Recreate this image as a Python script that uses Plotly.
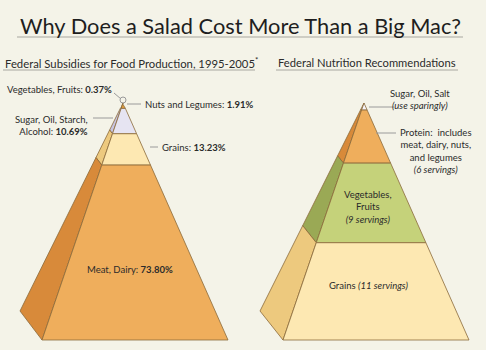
import plotly.graph_objects as go

# ---------------- data ----------------
subsidy_categories = ["Vegetables, Fruits", "Nuts and Legumes", "Sugar, Oil, Starch, Alcohol", "Grains", "Meat, Dairy"]
subsidy_percent = [0.37, 1.91, 10.69, 13.23, 73.80]
subsidy_front = ["#8fb04a", "#e6a040", "#e6e4f2", "#fde8b2", "#efae5c"]
subsidy_side = ["#6f8a36", "#c98530", "#c7c3df", "#edc97e", "#d88a3a"]

rec_categories = ["Sugar, Oil, Salt", "Protein", "Vegetables, Fruits", "Grains"]
rec_servings = [0.8, 6, 9, 11]
rec_front = ["#f6f4fa", "#efae5c", "#c5d27a", "#fde8b2"]
rec_side = ["#d9d6e8", "#d88a3a", "#9aa955", "#edc97e"]

BG = "#f4f3e8"
EDGE = "#8a6a3a"
TXT = "#2b2b2b"
FONT = "Lato"

fig = go.Figure()


def pyramid(values, front, side, apex, fbl, fbr, bbl):
    total = sum(values)
    t0 = 0.0
    def pt(corner, t):
        return (apex[0] + t * (corner[0] - apex[0]), apex[1] + t * (corner[1] - apex[1]))
    for v, fc, sc in zip(values, front, side):
        t1 = t0 + v / total
        # side face
        a, b, c, d = pt(fbl, t0), pt(fbl, t1), pt(bbl, t1), pt(bbl, t0)
        fig.add_trace(go.Scatter(x=[a[0], b[0], c[0], d[0], a[0]], y=[a[1], b[1], c[1], d[1], a[1]],
                                 fill="toself", fillcolor=sc, mode="lines",
                                 line=dict(color=EDGE, width=0.8), hoverinfo="skip", showlegend=False))
        # front face
        a, b, c, d = pt(fbl, t0), pt(fbl, t1), pt(fbr, t1), pt(fbr, t0)
        fig.add_trace(go.Scatter(x=[a[0], b[0], c[0], d[0], a[0]], y=[a[1], b[1], c[1], d[1], a[1]],
                                 fill="toself", fillcolor=fc, mode="lines",
                                 line=dict(color=EDGE, width=0.8), hoverinfo="skip", showlegend=False))
        t0 = t1


pyramid(subsidy_percent, subsidy_front, subsidy_side, (123, 103), (42, 340), (228, 340), (20, 311))
pyramid(rec_servings, rec_front, rec_side, (364, 103), (283, 340), (469, 340), (260, 311))

# apex marker for the tiny vegetable share
fig.add_trace(go.Scatter(x=[123], y=[100], mode="markers",
                         marker=dict(size=6, color=BG, line=dict(color="#999999", width=1)),
                         hoverinfo="skip", showlegend=False))

shapes = []
def line(x0, y0, x1, y1, color="#9a9a9a", w=1):
    shapes.append(dict(type="line", xref="x", yref="y", x0=x0, y0=y0, x1=x1, y1=y1,
                       line=dict(color=color, width=w)))

# underlines
line(17, 37, 463, 37, "#a8a8a0", 1.2)
line(3, 70, 255, 70, "#a8a8a0", 1)
line(276, 70, 458, 70, "#a8a8a0", 1)
# leader lines
line(114, 93, 121, 99)
line(127, 104, 141, 104)
line(93, 118, 113, 118)
line(150, 147, 158, 147)
line(369, 107, 394, 107)
line(376, 133, 396, 133)

ann = []
def text(x, y, s, size=9.5, xanchor="left", color=TXT, align="left"):
    ann.append(dict(x=x, y=y, xref="x", yref="y", text=s, showarrow=False,
                    xanchor=xanchor, yanchor="middle", align=align,
                    font=dict(family=FONT, size=size, color=color)))

text(240, 25, "Why Does a Salad Cost More Than a Big Mac?", size=21.8, xanchor="center", color="#1e1e1e")
text(3, 62, "Federal Subsidies for Food Production, 1995-2005<sup>*</sup>", size=11.3)
text(276, 62, "Federal Nutrition Recommendations", size=11.2)

text(5, 89, f"{subsidy_categories[0]}: <b>{subsidy_percent[0]:.2f}%</b>")
text(143, 104, f"{subsidy_categories[1]}: <b>{subsidy_percent[1]:.2f}%</b>")
text(90, 125, f"Sugar, Oil, Starch,<br>Alcohol: <b>{subsidy_percent[2]:.2f}%</b>", xanchor="right", align="right")
text(160, 147, f"{subsidy_categories[3]}: <b>{subsidy_percent[3]:.2f}%</b>")
text(130, 269, f"{subsidy_categories[4]}: <b>{subsidy_percent[4]:.2f}%</b>", xanchor="center")

text(420, 99, "Sugar, Oil, Salt<br><i>(use sparingly)</i>", xanchor="center", align="center")
text(436, 151, f"Protein:  includes<br>meat, dairy, nuts,<br>and legumes<br><i>({rec_servings[1]} servings)</i>",
     xanchor="center", align="center")
text(368, 207, f"Vegetables,<br>Fruits<br><i>({rec_servings[2]} servings)</i>", xanchor="center", align="center")
text(368, 285, f"Grains <i>({rec_servings[3]} servings)</i>", xanchor="center")

fig.update_layout(
    width=486, height=350, margin=dict(l=0, r=0, t=0, b=0),
    paper_bgcolor=BG, plot_bgcolor=BG,
    xaxis=dict(range=[0, 486], visible=False, fixedrange=True),
    yaxis=dict(range=[350, 0], visible=False, fixedrange=True),
    shapes=shapes, annotations=ann, showlegend=False,
)

fig.write_html("out.html")
